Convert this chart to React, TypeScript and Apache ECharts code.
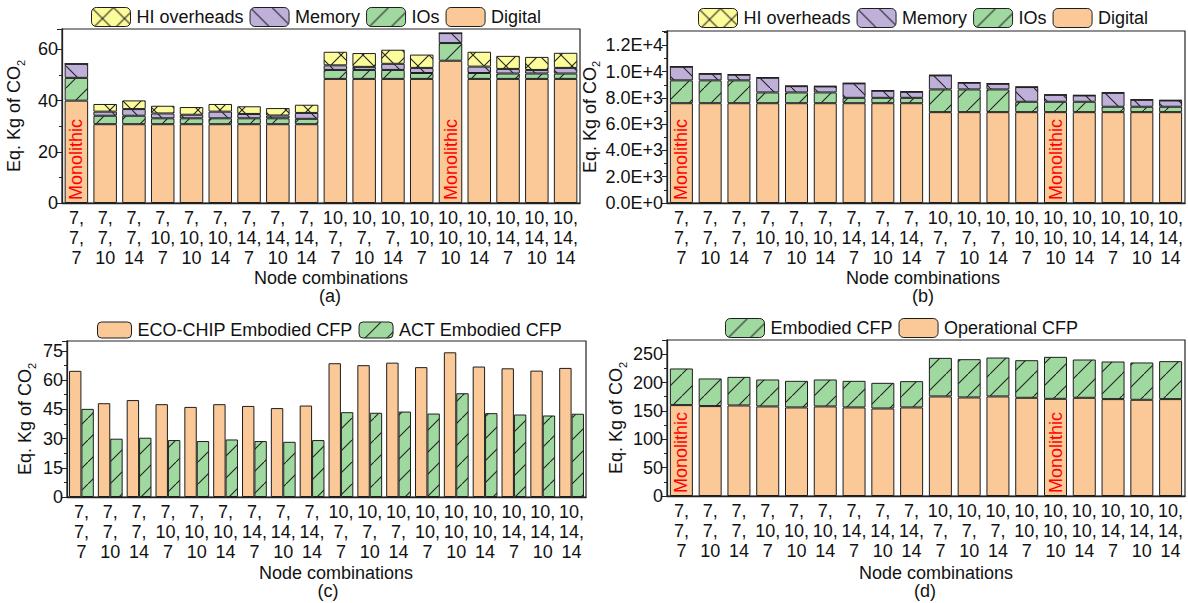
import React, { useEffect, useRef } from 'react';
import * as echarts from 'echarts';

const categories = [
  '7,\n7,\n7', '7,\n7,\n10', '7,\n7,\n14', '7,\n10,\n7', '7,\n10,\n10', '7,\n10,\n14',
  '7,\n14,\n7', '7,\n14,\n10', '7,\n14,\n14', '10,\n7,\n7', '10,\n7,\n10', '10,\n7,\n14',
  '10,\n10,\n7', '10,\n10,\n10', '10,\n10,\n14', '10,\n14,\n7', '10,\n14,\n10', '10,\n14,\n14',
];
const monolithicIdx = [0, 13];

// (a) embodied breakdown, Eq. Kg CO2
const aDigital = [40.0, 30.8, 30.8, 30.8, 30.8, 30.8, 30.8, 30.8, 30.8, 48.5, 48.5, 48.5, 48.5, 55.6, 48.5, 48.5, 48.5, 48.5];
const aIOs = [8.9, 3.3, 3.3, 2.3, 2.3, 2.3, 2.3, 2.3, 2.1, 3.5, 3.5, 3.5, 2.3, 6.9, 2.3, 2.1, 2.1, 2.1];
const aMemory = [5.5, 1.6, 2.6, 1.9, 1.4, 2.6, 1.7, 1.1, 2.3, 1.8, 1.2, 2.4, 2.0, 3.9, 2.5, 1.8, 1.4, 2.2];
const aHI = [0, 3.0, 3.4, 3.0, 3.0, 3.0, 3.0, 2.9, 3.2, 5.3, 5.4, 5.5, 5.2, 0, 5.8, 5.1, 5.1, 5.9];

// (b) breakdown
const bDigital = [7600, 7600, 7600, 7600, 7600, 7600, 7600, 7600, 7600, 6920, 6920, 6920, 6920, 6920, 6920, 6920, 6920, 6920];
const bIOs = [1740, 1740, 1740, 820, 820, 820, 410, 410, 410, 1730, 1730, 1730, 790, 790, 790, 410, 410, 410];
const bMemory = [1040, 500, 430, 1120, 480, 460, 1100, 540, 460, 1070, 510, 430, 1120, 530, 480, 1060, 530, 480];
const bHI = [0, 20, 20, 20, 20, 20, 20, 20, 20, 20, 20, 20, 20, 0, 20, 20, 20, 20];

// (c) comparison
const cEcoChip = [64.7, 48.1, 49.7, 47.6, 46.2, 47.6, 46.7, 45.6, 46.9, 68.6, 67.6, 68.9, 66.6, 74.2, 66.9, 66.0, 64.8, 66.2];
const cAct = [45.2, 29.9, 30.4, 29.2, 28.7, 29.5, 28.7, 28.3, 29.2, 43.5, 43.2, 43.8, 42.8, 53.2, 43.0, 42.3, 41.8, 42.7];

// (d) embodied vs operational
const dOperational = [160.2, 158.5, 159.6, 157.9, 156.1, 157.9, 156.1, 154.3, 156.1, 175.5, 173.7, 175.5, 173.1, 171.3, 173.1, 170.8, 169.6, 170.8];
const dEmbodied = [64.6, 48.7, 50.4, 47.5, 46.9, 47.5, 46.9, 45.2, 46.4, 68.0, 67.5, 68.6, 66.3, 74.0, 67.5, 66.3, 65.8, 66.9];

const ORANGE = '#FBC898';
const GREEN = '#A0D9A0';
const PURPLE = '#BEB0D8';
const YELLOW = '#FCFC9A';
const EDGE = '#1e1e1e';
const FONT = "'Liberation Sans', Arial, sans-serif";
const TXT = '#111';

function hatch(bg: string, kind: string): any {
  if (kind === 'none') return bg;
  const S = 22;
  const c = document.createElement('canvas');
  c.width = S;
  c.height = S;
  const ctx = c.getContext('2d')!;
  ctx.fillStyle = bg;
  ctx.fillRect(0, 0, S, S);
  ctx.strokeStyle = '#222';
  ctx.lineWidth = 1.1;
  ctx.beginPath();
  if (kind === '/' || kind === 'x') { ctx.moveTo(0, S); ctx.lineTo(S, 0); }
  if (kind === '\\' || kind === 'x') { ctx.moveTo(0, 0); ctx.lineTo(S, S); }
  ctx.stroke();
  return { image: c, repeat: 'repeat' };
}

const sciFmt = (v: number) => {
  if (v === 0) return '0.0E+0';
  const e = Math.floor(Math.log10(v) + 1e-9);
  const m = v / Math.pow(10, e);
  return m.toFixed(1) + 'E+' + e;
};

export default function App() {
  const ref = useRef<HTMLDivElement>(null);
  useEffect(() => {
    if (!ref.current) return;
    const chart = echarts.init(ref.current, null, { renderer: 'svg' });

    const pHI = hatch(YELLOW, 'x');
    const pMem = hatch(PURPLE, '\\');
    const pIO = hatch(GREEN, '/');

    const grids = [
      { left: 62, top: 29, width: 518, height: 174 },
      { left: 667, top: 31, width: 518, height: 172 },
      { left: 67, top: 341, width: 519, height: 156 },
      { left: 667, top: 340, width: 518, height: 156 },
    ];

    const xAxes: any[] = [];
    grids.forEach((_, i) => {
      xAxes.push({
        type: 'category', gridIndex: i, data: categories,
        axisLine: { lineStyle: { color: '#222', width: 1.3 } },
        axisTick: { alignWithLabel: true, length: 5, lineStyle: { color: '#222' } },
        axisLabel: { fontSize: 18, lineHeight: 20, color: TXT, fontFamily: FONT, margin: 5, interval: 0 },
      });
    });
    grids.forEach((_, i) => {
      xAxes.push({
        type: 'category', gridIndex: i, data: categories,
        axisLine: { show: false },
        axisTick: { alignWithLabel: false, length: 3, lineStyle: { color: '#222' } },
        axisLabel: { show: false },
      });
    });

    const nameRich = {
      a: { fontSize: 18, fontFamily: FONT, color: TXT, lineHeight: 24, verticalAlign: 'middle' },
      s: { fontSize: 11, fontFamily: FONT, color: TXT, lineHeight: 24, verticalAlign: 'bottom' },
    };
    const yBase = (i: number, max: number, interval: number, gap: number, fmt?: any) => ({
      type: 'value', gridIndex: i, min: 0, max, interval,
      name: '{a|Eq. Kg of CO}{s|2}', nameLocation: 'middle', nameGap: gap,
      nameTextStyle: { rich: nameRich },
      axisLine: { show: true, lineStyle: { color: '#222', width: 1.3 } },
      axisTick: { show: true, length: 5, lineStyle: { color: '#222' } },
      minorTick: { show: true, splitNumber: 2, length: 3, lineStyle: { color: '#222' } },
      splitLine: { show: false },
      axisLabel: {
        fontSize: 18, color: TXT, fontFamily: FONT, margin: 4, showMaxLabel: false,
        formatter: (v: number) => (Math.abs(v / interval - Math.round(v / interval)) < 1e-6 ? (fmt ? fmt(v) : String(v)) : ''),
      },
    });
    const yAxes = [
      yBase(0, 68, 20, 36),
      yBase(1, 13100, 2000, 63, sciFmt),
      yBase(2, 80, 15, 30),
      yBase(3, 275, 50, 39),
    ];

    const monoLabel = {
      show: true, position: 'insideBottom', rotate: 90, align: 'left', verticalAlign: 'middle',
      distance: 3, formatter: 'Monolithic', color: '#FF0000', fontSize: 18, fontFamily: FONT,
    };
    const withMono = (arr: number[]) => arr.map((v, i) => (monolithicIdx.includes(i) ? { value: v, label: monoLabel } : v));

    const barCommon = { type: 'bar', itemStyle: { borderColor: EDGE, borderWidth: 1 } };
    const series: any[] = [
      // (a)
      { ...barCommon, name: 'Digital', xAxisIndex: 0, yAxisIndex: 0, stack: 'a', barWidth: 23.5, data: withMono(aDigital), itemStyle: { ...barCommon.itemStyle, color: ORANGE } },
      { ...barCommon, name: 'IOs', xAxisIndex: 0, yAxisIndex: 0, stack: 'a', barWidth: 23.5, data: aIOs, itemStyle: { ...barCommon.itemStyle, color: pIO } },
      { ...barCommon, name: 'Memory', xAxisIndex: 0, yAxisIndex: 0, stack: 'a', barWidth: 23.5, data: aMemory, itemStyle: { ...barCommon.itemStyle, color: pMem } },
      { ...barCommon, name: 'HI overheads', xAxisIndex: 0, yAxisIndex: 0, stack: 'a', barWidth: 23.5, data: aHI, itemStyle: { ...barCommon.itemStyle, color: pHI } },
      // (b)
      { ...barCommon, name: 'Digital', xAxisIndex: 1, yAxisIndex: 1, stack: 'b', barWidth: 23, data: withMono(bDigital), itemStyle: { ...barCommon.itemStyle, color: ORANGE } },
      { ...barCommon, name: 'IOs', xAxisIndex: 1, yAxisIndex: 1, stack: 'b', barWidth: 23, data: bIOs, itemStyle: { ...barCommon.itemStyle, color: pIO } },
      { ...barCommon, name: 'Memory', xAxisIndex: 1, yAxisIndex: 1, stack: 'b', barWidth: 23, data: bMemory, itemStyle: { ...barCommon.itemStyle, color: pMem } },
      { ...barCommon, name: 'HI overheads', xAxisIndex: 1, yAxisIndex: 1, stack: 'b', barWidth: 23, data: bHI, itemStyle: { ...barCommon.itemStyle, color: pHI } },
      // (c)
      { ...barCommon, name: 'ECO-CHIP Embodied CFP', xAxisIndex: 2, yAxisIndex: 2, barWidth: 12.4, barGap: '0%', data: cEcoChip, itemStyle: { ...barCommon.itemStyle, color: ORANGE } },
      { ...barCommon, name: 'ACT Embodied CFP', xAxisIndex: 2, yAxisIndex: 2, barWidth: 12.4, barGap: '0%', data: cAct, itemStyle: { ...barCommon.itemStyle, color: pIO } },
      // (d)
      { ...barCommon, name: 'Operational CFP', xAxisIndex: 3, yAxisIndex: 3, stack: 'd', barWidth: 23, data: withMono(dOperational), itemStyle: { ...barCommon.itemStyle, color: ORANGE } },
      { ...barCommon, name: 'Embodied CFP', xAxisIndex: 3, yAxisIndex: 3, stack: 'd', barWidth: 23, data: dEmbodied, itemStyle: { ...barCommon.itemStyle, color: pIO } },
    ];

    const legendBase = {
      orient: 'horizontal', itemWidth: 39, itemHeight: 19, itemGap: 6, selectedMode: false,
      textStyle: { fontSize: 18, color: TXT, fontFamily: FONT, padding: [0, 0, 0, 1] },
      itemStyle: { borderColor: EDGE, borderWidth: 1 }, padding: 0,
    };
    const legends = [
      { ...legendBase, left: 91, top: 7, data: ['HI overheads', 'Memory', 'IOs', 'Digital'] },
      { ...legendBase, left: 698, top: 8, data: ['HI overheads', 'Memory', 'IOs', 'Digital'] },
      { ...legendBase, left: 97, top: 321, itemWidth: 34, itemHeight: 16, data: ['ECO-CHIP Embodied CFP', 'ACT Embodied CFP'] },
      { ...legendBase, left: 725, top: 318, data: ['Embodied CFP', 'Operational CFP'] },
    ];

    const txt = (x: number, y: number, t: string) => ({
      type: 'text', x, y,
      style: { text: t, fontSize: 18, lineHeight: 18, fontFamily: FONT, fill: TXT, align: 'center', verticalAlign: 'middle' },
    });

    chart.setOption({
      animation: false,
      grid: grids.map((g) => ({ ...g, show: true, borderColor: '#222', borderWidth: 1.2, containLabel: false })),
      legend: legends,
      xAxis: xAxes,
      yAxis: yAxes,
      series,
      graphic: [
        txt(331, 278, 'Node combinations'), txt(330, 296, '(a)'),
        txt(923, 278, 'Node combinations'), txt(923, 296, '(b)'),
        txt(336, 573, 'Node combinations'), txt(328, 591, '(c)'),
        txt(936, 573, 'Node combinations'), txt(925, 591, '(d)'),
      ],
    });
    return () => chart.dispose();
  }, []);
  return (
    <div
      ref={ref}
      style={{ position: 'fixed', left: 0, top: 0, width: 1188, height: 603, background: '#fff' }}
    />
  );
}
